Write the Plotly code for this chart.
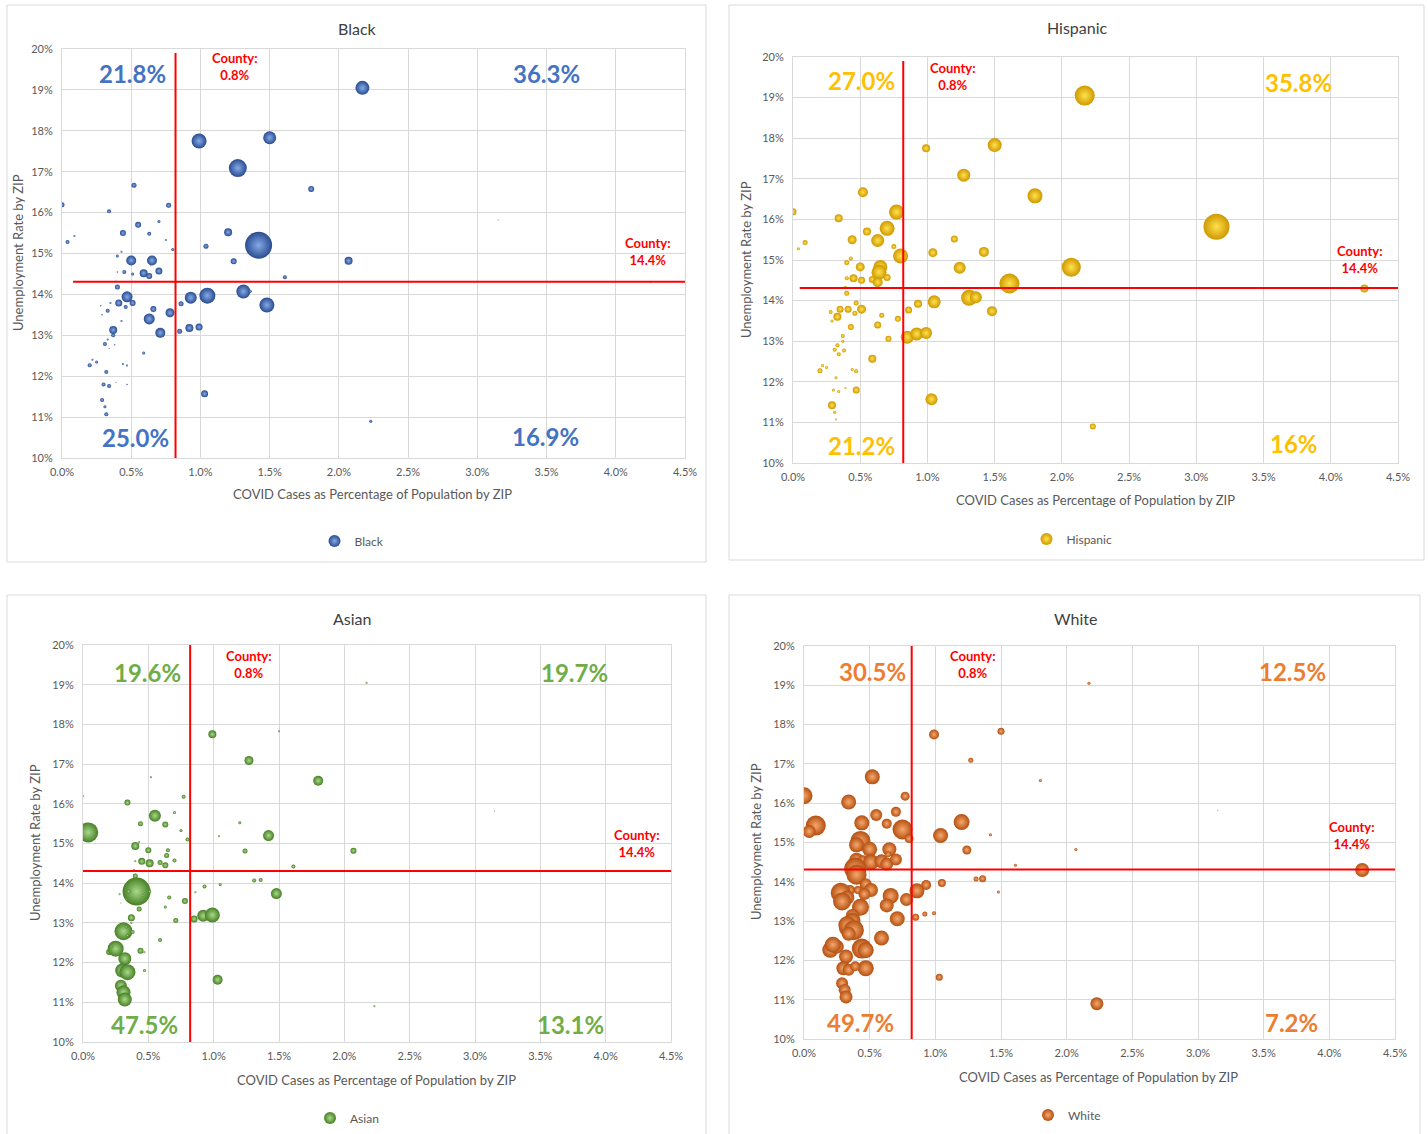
import plotly.graph_objects as go

# ---------------- data ----------------
# COVID cases as % of population by ZIP (x) and unemployment rate by ZIP (y)
zip_covid_pct = [2.17, 0.99, 1.50, 1.27, 1.80, 0.52, 0.00, 0.34, 0.77, 0.70,
                 0.55, 0.44, 0.63, 1.20, 0.09, 0.04, 0.75, 1.42, 1.04, 0.80,
                 0.43, 0.40, 0.50, 0.65, 0.64, 1.24, 2.07, 0.40, 0.45, 0.51,
                 0.59, 0.63, 0.70, 1.61, 0.39, 0.40, 0.47, 0.93, 1.05, 1.31,
                 1.36, 0.41, 0.51, 0.35, 0.28, 0.46, 0.33, 0.29, 0.66, 0.86,
                 1.48, 0.78, 0.63, 0.43, 0.37, 0.37, 0.71, 0.85, 0.92, 0.99,
                 0.31, 0.33, 0.38, 0.34, 0.59, 0.20, 0.25, 0.22, 0.44, 0.47,
                 0.32, 0.30, 0.34, 0.47, 0.39, 1.03, 0.29, 0.31, 0.32, 2.23,
                 3.15, 4.25]
zip_unemp_pct = [19.05, 17.75, 17.83, 17.09, 16.58, 16.67, 16.19, 16.03, 16.18, 15.78,
                 15.70, 15.50, 15.48, 15.52, 15.43, 15.28, 15.33, 15.20, 15.18, 15.10,
                 15.04, 14.94, 14.83, 14.83, 14.70, 14.81, 14.82, 14.55, 14.55, 14.50,
                 14.52, 14.45, 14.57, 14.42, 14.33, 14.18, 13.94, 13.92, 13.97, 14.07,
                 14.08, 13.79, 13.79, 13.79, 13.72, 13.69, 13.60, 13.50, 13.64, 13.77,
                 13.74, 13.55, 13.40, 13.35, 13.13, 13.00, 13.06, 13.10, 13.18, 13.20,
                 12.79, 12.90, 12.77, 12.68, 12.57, 12.27, 12.35, 12.40, 12.30, 12.26,
                 12.10, 11.80, 11.76, 11.80, 11.85, 11.57, 11.42, 11.25, 11.07, 10.90,
                 15.82, 14.30]
# bubble size (relative population of each group in the ZIP)
black_size = [14, 15, 13, 18, 6, 5, 5, 4, 5, 3,
              6, 6, 4, 8, 2, 4, 2, 27, 5, 3,
              2, 3, 10, 10, 1, 6, 8, 1.5, 4, 3,
              8, 6, 7, 4, 1, 5, 11, 12, 16, 14,
              3, 7, 6, 2, 1.5, 4, 4, 1.5, 6, 5,
              15, 9, 11, 2, 8, 4, 10, 5, 8, 7,
              4, 2, 1.5, 1, 3, 4, 3, 2, 2, 2,
              4, 4, 4, 1.5, 1, 7, 4, 3, 4, 3,
              1, 1]
hispanic_size = [20, 8, 14, 13, 15, 10, 7, 8, 15, 15,
                 8, 9, 13, 7, 5, 3, 5, 10, 9, 15,
                 4, 5, 9, 14, 15, 12, 19, 4, 8, 7,
                 7, 10, 7, 20, 3, 5, 5, 8, 13, 16,
                 12, 7, 9, 7, 4, 5, 8, 3, 5, 7,
                 10, 6, 7, 6, 4, 3, 6, 13, 13, 12,
                 4, 4, 4, 4, 8, 5, 3, 3, 3, 4,
                 3, 3, 3, 7, 2, 12, 8, 3, 2, 6,
                 26, 8]
asian_size = [2, 8, 2, 9, 10, 2, 2, 6, 4, 3,
              12, 5, 6, 3, 1, 20, 3, 11, 2, 4,
              2, 8, 6, 4, 5, 5, 6, 2, 7, 8,
              5, 6, 4, 4, 2, 5, 3, 4, 3, 4,
              4, 28, 3, 4, 2, 2, 2, 1, 4, 2,
              11, 6, 3, 5, 7, 2, 5, 7, 12, 15,
              18, 3, 4, 2, 4, 6, 16, 2, 6, 2,
              13, 14, 16, 3, 1, 10, 12, 14, 14, 2,
              1, 0.5]
white_size = [3, 10, 7, 5, 3, 15, 17, 15, 9, 10,
              12, 15, 10, 16, 20, 13, 20, 3, 15, 9,
              20, 15, 15, 14, 6, 9, 3, 15, 10, 16,
              14, 13, 12, 3, 22, 20, 12, 10, 8, 5,
              7, 8, 14, 10, 20, 12, 14, 18, 16, 15,
              3, 13, 14, 17, 14, 16, 15, 7, 5, 4,
              11, 18, 20, 14, 15, 16, 14, 16, 20, 16,
              14, 14, 12, 16, 10, 7, 12, 12, 13, 13,
              1, 14]

county_covid_pct = 0.82
county_unemp_pct = 14.31
county_covid_label = "County:<br>0.8%"
county_unemp_label = "County:<br>14.4%"

x_tick_vals = [0.0, 0.5, 1.0, 1.5, 2.0, 2.5, 3.0, 3.5, 4.0, 4.5]
x_tick_text = ["0.0%", "0.5%", "1.0%", "1.5%", "2.0%", "2.5%", "3.0%", "3.5%", "4.0%", "4.5%"]
y_tick_vals = [10, 11, 12, 13, 14, 15, 16, 17, 18, 19, 20]
y_tick_text = ["10%", "11%", "12%", "13%", "14%", "15%", "16%", "17%", "18%", "19%", "20%"]

# quadrant shares: [upper-left, upper-right, lower-left, lower-right]
black_quadrants = ["21.8%", "36.3%", "25.0%", "16.9%"]
hispanic_quadrants = ["27.0%", "35.8%", "21.2%", "16%"]
asian_quadrants = ["19.6%", "19.7%", "47.5%", "13.1%"]
white_quadrants = ["30.5%", "12.5%", "49.7%", "7.2%"]

# ---------------- layout helpers ----------------
W, H = 1428, 1134
FONT = "Lato, 'Open Sans', sans-serif"
GRID = "#D9D9D9"
TXT = "#595959"
RED = "#FF0000"


def px_x(p):
    return p / W


def px_y(p):
    return 1 - p / H


charts = [
    dict(name="Black", sizes=black_size, quads=black_quadrants,
         color="#4472C4", center="#86A9E8", edge="#284C8E",
         box=(62, 685, 49, 458), panel=(7, 706, 5, 562),
         title=(357, 28), xtitle=(372, 494), ytitle=(18, 253), legend=(352, 541),
         qpos=[(0.51, 19.41), (3.50, 19.41), (0.53, 10.49), (3.49, 10.52)],
         cpos=(1.25, 19.56), rpos=(4.23, 15.05), hx0=0.08, vy1=19.9),
    dict(name="Hispanic", sizes=hispanic_size, quads=hispanic_quadrants,
         color="#FFC000", center="#FFE24D", edge="#CF9800",
         box=(793, 1398, 57, 463), panel=(729, 1424, 5, 560),
         title=(1077, 27), xtitle=(1095, 500), ytitle=(746, 260), legend=(1072, 539),
         qpos=[(0.51, 19.41), (3.76, 19.38), (0.51, 10.42), (3.73, 10.47)],
         cpos=(1.19, 19.53), rpos=(4.22, 15.0), hx0=0.05, vy1=19.9),
    dict(name="Asian", sizes=asian_size, quads=asian_quadrants,
         color="#70AD47", center="#A9D98A", edge="#467F25",
         box=(83, 671, 645, 1042), panel=(7, 706, 595, 1140),
         title=(352, 618), xtitle=(376, 1080), ytitle=(35, 843), legend=(347, 1118),
         qpos=[(0.49, 19.32), (3.76, 19.32), (0.47, 10.45), (3.73, 10.43)],
         cpos=(1.27, 19.5), rpos=(4.24, 14.99), hx0=0.0, vy1=20.0),
    dict(name="White", sizes=white_size, quads=white_quadrants,
         color="#ED7D31", center="#F6A86E", edge="#B44F10",
         box=(804, 1395, 646, 1039), panel=(729, 1420, 595, 1140),
         title=(1075, 618), xtitle=(1098, 1077), ytitle=(756, 842), legend=(1067, 1115),
         qpos=[(0.52, 19.36), (3.72, 19.36), (0.43, 10.43), (3.71, 10.43)],
         cpos=(1.29, 19.52), rpos=(4.17, 15.17), hx0=0.0, vy1=20.0),
]

fig = go.Figure()
annotations = []
shapes = []
layout_kw = {}

for i, c in enumerate(charts):
    n = "" if i == 0 else str(i + 1)
    xa, ya = "x" + n, "y" + n
    leg = "legend" + n
    fig.add_trace(go.Scatter(
        x=zip_covid_pct, y=zip_unemp_pct, mode="markers", name=c["name"],
        xaxis=xa, yaxis=ya, legend=leg, showlegend=True,
        marker=dict(size=c["sizes"], sizemode="diameter", sizeref=1,
                    color=c["edge"], opacity=1,
                    gradient=dict(type="radial", color=c["center"]),
                    line=dict(width=0)),
        hoverinfo="x+y",
    ))
    l, r, t, b = c["box"]
    axis_common = dict(showgrid=True, gridcolor=GRID, gridwidth=1,
                       showline=True, linecolor=GRID, linewidth=1, mirror=True,
                       zeroline=False, ticks="", automargin=False,
                       tickfont=dict(family=FONT, size=11, color=TXT))
    layout_kw["xaxis" + n] = dict(axis_common, domain=[px_x(l), px_x(r)], anchor=ya,
                                  range=[0, 4.5], tickvals=x_tick_vals, ticktext=x_tick_text,
                                  ticklabelstandoff=4)
    layout_kw["yaxis" + n] = dict(axis_common, domain=[px_y(b), px_y(t)], anchor=xa,
                                  range=[10, 20], tickvals=y_tick_vals, ticktext=y_tick_text,
                                  ticklabelstandoff=6)
    layout_kw[leg] = dict(x=px_x(c["legend"][0]), y=px_y(c["legend"][1]),
                          xanchor="center", yanchor="middle", orientation="h",
                          bgcolor="rgba(0,0,0,0)", itemsizing="constant", itemwidth=30,
                          font=dict(family=FONT, size=12, color=TXT))

    # panel frame
    pl, pr, pt, pb = c["panel"]
    shapes.append(dict(type="rect", xref="paper", yref="paper",
                       x0=px_x(pl), x1=px_x(pr), y0=px_y(pb), y1=px_y(pt),
                       line=dict(color=GRID, width=1), fillcolor="rgba(0,0,0,0)", layer="below"))
    # county reference lines
    shapes.append(dict(type="line", xref=xa, yref=ya,
                       x0=county_covid_pct, x1=county_covid_pct, y0=10, y1=c["vy1"],
                       line=dict(color=RED, width=2)))
    shapes.append(dict(type="line", xref=xa, yref=ya,
                       x0=c["hx0"], x1=4.5, y0=county_unemp_pct, y1=county_unemp_pct,
                       line=dict(color=RED, width=2)))

    # titles
    annotations.append(dict(text=c["name"], xref="paper", yref="paper",
                            x=px_x(c["title"][0]), y=px_y(c["title"][1]),
                            xanchor="center", yanchor="middle", showarrow=False,
                            font=dict(family=FONT, size=16, color="#404040")))
    annotations.append(dict(text="COVID Cases as Percentage of Population by ZIP",
                            xref="paper", yref="paper",
                            x=px_x(c["xtitle"][0]), y=px_y(c["xtitle"][1]),
                            xanchor="center", yanchor="middle", showarrow=False,
                            font=dict(family=FONT, size=13, color=TXT)))
    annotations.append(dict(text="Unemployment Rate by ZIP", textangle=-90,
                            xref="paper", yref="paper",
                            x=px_x(c["ytitle"][0]), y=px_y(c["ytitle"][1]),
                            xanchor="center", yanchor="middle", showarrow=False,
                            font=dict(family=FONT, size=13, color=TXT)))
    # quadrant shares
    for txt, (qx, qy) in zip(c["quads"], c["qpos"]):
        annotations.append(dict(text="<b>%s</b>" % txt, xref=xa, yref=ya, x=qx, y=qy,
                                xanchor="center", yanchor="middle", showarrow=False,
                                font=dict(family=FONT, size=24, color=c["color"])))
    # county labels
    annotations.append(dict(text="<b>%s</b>" % county_covid_label, xref=xa, yref=ya,
                            x=c["cpos"][0], y=c["cpos"][1], xanchor="center", yanchor="middle",
                            showarrow=False, font=dict(family=FONT, size=13, color=RED)))
    annotations.append(dict(text="<b>%s</b>" % county_unemp_label, xref=xa, yref=ya,
                            x=c["rpos"][0], y=c["rpos"][1], xanchor="center", yanchor="middle",
                            showarrow=False, font=dict(family=FONT, size=13, color=RED)))

fig.update_layout(
    width=W, height=H, margin=dict(l=0, r=0, t=0, b=0, autoexpand=False),
    paper_bgcolor="white", plot_bgcolor="white", showlegend=True,
    font=dict(family=FONT, color=TXT),
    annotations=annotations, shapes=shapes, **layout_kw,
)

fig.write_html("out.html", post_script="document.body.style.margin='0';",
               config={"displayModeBar": False})
